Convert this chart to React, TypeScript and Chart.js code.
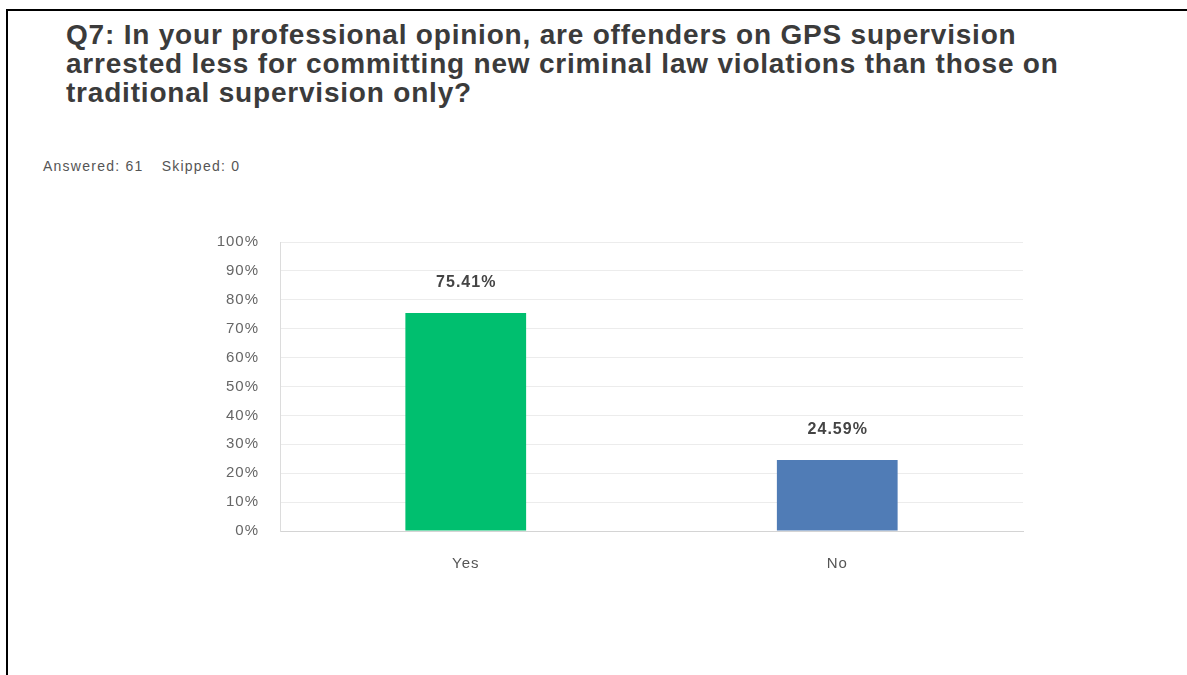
import React, { useEffect, useRef } from "react";
import { Chart, registerables } from "chart.js";

Chart.register(...registerables);

const titleLines = [
  "Q7: In your professional opinion, are offenders on GPS supervision",
  "arrested less for committing new criminal law violations than those on",
  "traditional supervision only?",
];
const answered = 61;
const skipped = 0;
const categories = ["Yes", "No"];
const percentages = [75.41, 24.59];
const barColors = ["#00BF6F", "#507CB6"];
const yMax = 100;
const yStep = 10;

const FONT = '"Liberation Sans", Arial, Helvetica, sans-serif';

const valueLabelPlugin = {
  id: "valueLabels",
  beforeDraw(chart: any) {
    chart.ctx.letterSpacing = "1px";
  },
  afterDatasetsDraw(chart: any) {
    const ctx = chart.ctx;
    const meta = chart.getDatasetMeta(0);
    ctx.save();
    ctx.letterSpacing = "1px";
    ctx.font = `bold 16px ${FONT}`;
    ctx.fillStyle = "#444444";
    ctx.textAlign = "center";
    ctx.textBaseline = "middle";
    meta.data.forEach((bar: any, i: number) => {
      const v = chart.data.datasets[0].data[i] as number;
      ctx.fillText(v.toFixed(2) + "%", bar.x + 0.5, bar.y - 30);
    });
    ctx.restore();
  },
};

function BarChart() {
  const ref = useRef<HTMLCanvasElement | null>(null);
  useEffect(() => {
    if (!ref.current) return;
    const chart = new Chart(ref.current, {
      type: "bar",
      data: {
        labels: categories,
        datasets: [
          {
            data: percentages,
            backgroundColor: barColors,
            borderWidth: 0,
            categoryPercentage: 1,
            barPercentage: 0.325,
          },
        ],
      },
      options: {
        responsive: false,
        animation: false,
        layout: { padding: { left: 0, right: 27, top: 0, bottom: 0 } },
        plugins: {
          legend: { display: false },
          tooltip: { enabled: false },
          title: { display: false },
        },
        scales: {
          x: {
            grid: { display: false, drawTicks: false },
            border: { display: true, color: "#d4d4d4", width: 1 },
            ticks: {
              padding: 24,
              color: "#555555",
              font: { family: FONT, size: 15 },
            },
            afterFit(scale: any) {
              scale.height = 59;
            },
          },
          y: {
            min: 0,
            max: yMax,
            grid: { color: "#ececec", lineWidth: 1, drawTicks: false },
            border: { display: true, color: "#dcdcdc", width: 1 },
            ticks: {
              stepSize: yStep,
              padding: 21,
              color: "#666666",
              font: { family: FONT, size: 15 },
              callback: (v: any) => `${v}%`,
            },
            afterFit(scale: any) {
              scale.width = 80;
            },
          },
        },
      },
      plugins: [valueLabelPlugin],
    });
    return () => chart.destroy();
  }, []);
  return (
    <canvas
      ref={ref}
      width={850}
      height={378}
      style={{ position: "absolute", left: 200, top: 212, width: 850, height: 378 }}
    />
  );
}

export default function App() {
  return (
    <div
      style={{
        position: "absolute",
        left: 0,
        top: 0,
        width: 1187,
        height: 675,
        overflow: "hidden",
        background: "#ffffff",
        fontFamily: FONT,
      }}
    >
      <div
        style={{
          position: "absolute",
          left: 6,
          top: 9,
          width: 1300,
          height: 800,
          borderLeft: "2px solid #000",
          borderTop: "2px solid #000",
        }}
      />
      <div
        style={{
          position: "absolute",
          left: 66,
          top: 20,
          fontSize: 28,
          lineHeight: "29px",
          fontWeight: "bold",
          letterSpacing: "0.8px",
          color: "#3b3b3b",
          whiteSpace: "nowrap",
        }}
      >
        {titleLines.map((l, i) => (
          <div key={i}>{l}</div>
        ))}
      </div>
      <div
        style={{
          position: "absolute",
          left: 43,
          top: 159,
          fontSize: 14,
          lineHeight: "14px",
          letterSpacing: "1.25px",
          color: "#555555",
          whiteSpace: "nowrap",
        }}
      >
        <span>Answered: {answered}</span>
        <span style={{ marginLeft: 18 }}>Skipped: {skipped}</span>
      </div>
      <BarChart />
    </div>
  );
}
